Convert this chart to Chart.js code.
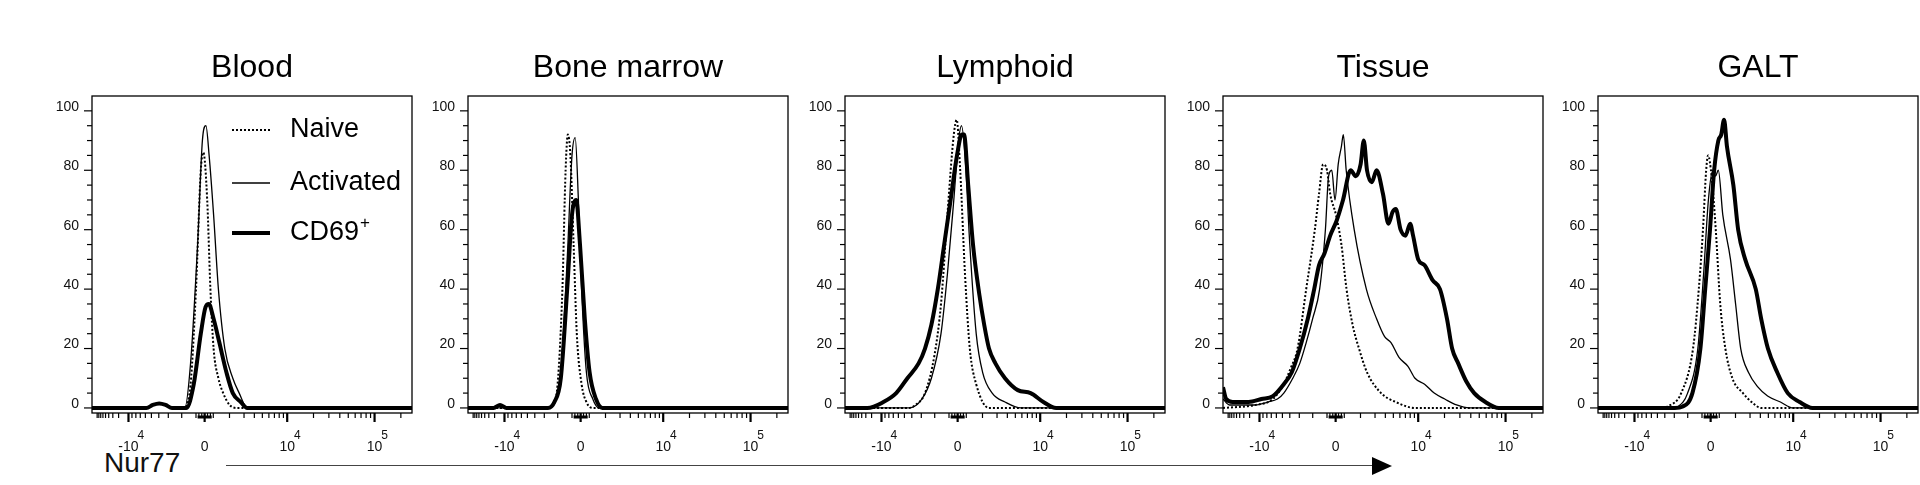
<!DOCTYPE html>
<html><head><meta charset="utf-8">
<script src="https://cdn.jsdelivr.net/npm/chart.js@4"></script>
<style>
body{margin:0;width:1920px;height:485px;background:#fff;position:relative;overflow:hidden;font-family:"Liberation Sans",Arial,sans-serif}
.pc{position:absolute;top:40px;width:370px;height:445px}
#nur{position:absolute;left:104px;top:447px;font-size:28px;color:#111}
#arr{position:absolute;left:226px;top:465px;width:1150px;height:0;border-top:1.5px solid #444}
#ah{position:absolute;left:1372px;top:457px;width:0;height:0;border-top:9px solid transparent;border-bottom:9px solid transparent;border-left:20px solid #000}
</style></head><body>
<div id="nur">Nur77</div><div id="arr"></div><div id="ah"></div>
<script>
// Panels
const panelTitles=["Blood","Bone marrow","Lymphoid","Tissue","GALT"];
const plotLefts=[92,468,845,1223,1598];
const seriesNames=["Naive","Activated","CD69⁺"];
// x axis tick positions (display units 0..100) and labels
const xTickPos=[11.4,35.2,61,88.3];
const xTickBase=["-10","0","10","10"];
const xTickSup=["4","","4","5"];
const yTicks=[0,20,40,60,80,100];

// Blood
const naiveBloodX=[0,17,19,21,23,25,28.5,30.5,32.5,34,34.8,36,37,38,39.5,41,43,45.5,100];
const naiveBloodY=[0,0,1,1.5,1,0,0,5,40,80,86,70,40,20,10,5,1,0,0];
const actBloodX=[0,17,19,21,23,25,29,30.8,33,34.5,35.6,36.6,38,39.5,41.5,44,46,48.5,100];
const actBloodY=[0,0,1,1.5,1,0,0,15,55,90,95,85,65,40,20,10,5,0,0];
const cdBloodX=[0,17,19,21,23,25,29.5,31.8,34,35.5,36.5,38,39.8,42,44,46.5,48.5,100];
const cdBloodY=[0,0,1,1.5,1,0,0,8,25,34,35,30,22,12,5,2,0,0];
// Bone marrow
const naiveBMX=[0,24,26.5,28,29.5,30.5,31.2,32,33,34,35.5,37,39,100];
const naiveBMY=[0,0,1,8,40,80,92,85,55,25,8,2,0,0];
const actBMX=[0,25,27,29,31,32.5,33.5,34.5,35.5,37,39,41,100];
const actBMY=[0,0,2,12,50,85,91,70,40,12,3,0,0];
const cdBMX=[0,8,10,12,25,27,29,31,32.5,33.8,35,36.5,38,40,42,100];
const cdBMY=[0,0,1,0,0,2,10,40,65,70,55,30,12,3,0,0];
// Lymphoid
const naiveLX=[0,20,22,25,28,30,32,34,34.9,36,37.5,39,41,45,100];
const naiveLY=[0,0,1,5,18,35,65,92,97,80,45,20,8,0,0];
const actLX=[0,20,24,27,30,32,34,35.5,36.4,37.5,39,41,43,46,50,55,100];
const actLY=[0,0,3,10,25,45,70,90,95,85,55,25,12,5,2,0,0];
const cdLX=[0,7,12,16,19.5,23,25,27,29,31,33,35,36.5,37.2,38.5,40,42,43.5,45,47,50,54,58,62,66,100];
const cdLY=[0,0,2,5,10,15,20,28,40,55,70,85,92,92,75,55,38,28,20,15,10,6,5,2,0,0];
// Tissue
const naiveTX=[0,10,15.6,19,21,23.3,26,28.7,30,31.3,32.5,33.5,35.3,37,38.6,40.5,42.5,45,49.4,54,60,100];
const naiveTY=[0,1,3,8,13,20,40,60,72,82,80,72,65,55,40,28,20,12,5,2,0,0];
const actTX=[0,2,5,10,14,17,19,21.8,24,26,28,30.2,32,33,34,35,36,37,37.6,38.5,41,44.8,48,50.5,52.5,55,57.8,60,63,66,69.3,73,77,100];
const actTY=[3,1,1,1,2,3,5,10,15,22,30,40,60,78,80,70,82,88,92,80,60,40,30,24,22,17,14,10,8,5,3,1,0,0];
const cdTX=[0,1,3,8,12,15.6,19,21.5,24,26.5,28.5,30,31.7,33.5,35.5,37.5,39.9,41.5,43,44,45,46.5,48,50,51.7,53,54,55.5,57,58.5,59.4,61,63,65.5,67.8,70,71.6,73.5,76,78.5,82,86.2,100];
const cdTY=[7,3,2,2,3,4,8,12,20,30,40,48,52,58,63,70,80,78,82,90,80,76,80,72,62,66,67,60,58,62,58,50,48,43,40,30,20,15,9,5,2,0,0];
// GALT
const naiveGX=[0,20,21.8,26,29.7,31.5,32.8,33.8,34.4,35.5,36.8,38.2,39.8,42,45.3,48,51,100];
const naiveGY=[0,0,0.5,5,20,40,60,80,85,78,60,35,20,10,5,2,0,0];
const actGX=[0,23,25,28,31.2,33,34.5,35.9,36.7,37.6,39,41.4,43,44.6,47,50,53,57,61,100];
const actGY=[0,0,0.5,5,20,45,70,80,78,80,65,50,35,20,12,7,4,2,0,0];
const cdGX=[0,24,26.5,29.5,32,33.5,35,36.3,37.6,38.5,39.4,40.3,42.3,43.8,46,49.3,51,53.1,56,59.3,63,67,100];
const cdGY=[0,0,0.5,5,20,40,60,80,90,92,97,88,75,60,50,40,30,20,12,5,2,0,0];

const panelData=[
 [[naiveBloodX,naiveBloodY],[actBloodX,actBloodY],[cdBloodX,cdBloodY]],
 [[naiveBMX,naiveBMY],[actBMX,actBMY],[cdBMX,cdBMY]],
 [[naiveLX,naiveLY],[actLX,actLY],[cdLX,cdLY]],
 [[naiveTX,naiveTY],[actTX,actTY],[cdTX,cdTY]],
 [[naiveGX,naiveGY],[actGX,actGY],[cdGX,cdGY]]
];
const styles=[{w:2,d:[2,2]},{w:1.3,d:[]},{w:4,d:[]}];

function minorX(){
  const m=[];
  for(let k=2;k<=9;k++){const l=Math.log10(k);
    m.push(35.2+25.8*l, 35.2-23.8*l, 61+27.3*l, 11.4-11.4*l*0.9, 88.3+27.3*l);}
  for(let i=-3;i<=3;i++) m.push(35.2+i*0.9);
  return m;
}
const mX=minorX();

const axesPlugin={id:'axesDraw',afterDraw(c,a,o){
  const ctx=c.ctx,ca=c.chartArea,xs=c.scales.x,ys=c.scales.y;
  ctx.save();ctx.strokeStyle='#000';ctx.fillStyle='#111';ctx.lineWidth=1.3;
  ctx.strokeRect(ca.left,ca.top,ca.right-ca.left,ca.bottom-ca.top);
  ctx.lineWidth=1.2;
  for(let v=0;v<=100;v+=5){const y=ys.getPixelForValue(v);const L=v%20===0?8:5;
    ctx.beginPath();ctx.moveTo(ca.left-L,y);ctx.lineTo(ca.left,y);ctx.stroke();}
  ctx.font='14px "Liberation Sans",Arial';ctx.textAlign='right';ctx.textBaseline='middle';
  yTicks.forEach(v=>ctx.fillText(String(v),ca.left-13,ys.getPixelForValue(v)-4));
  mX.forEach(v=>{if(v<0.5||v>99.5)return;const x=xs.getPixelForValue(v);
    ctx.beginPath();ctx.moveTo(x,ca.bottom);ctx.lineTo(x,ca.bottom+5);ctx.stroke();});
  ctx.lineWidth=2.2;
  xTickPos.forEach(v=>{const x=xs.getPixelForValue(v);
    ctx.beginPath();ctx.moveTo(x,ca.bottom);ctx.lineTo(x,ca.bottom+9);ctx.stroke();});
  ctx.lineWidth=3;const z0=xs.getPixelForValue(33),z1=xs.getPixelForValue(37.4);
  ctx.beginPath();ctx.moveTo(z0,ca.bottom+4);ctx.lineTo(z1,ca.bottom+4);ctx.stroke();
  ctx.textBaseline='alphabetic';
  xTickPos.forEach((v,i)=>{const x=xs.getPixelForValue(v);
    ctx.font='14px "Liberation Sans",Arial';ctx.textAlign='center';
    ctx.fillText(xTickBase[i],x,ca.bottom+38);
    if(xTickSup[i]){const w=ctx.measureText(xTickBase[i]).width;ctx.textAlign='left';
      ctx.font='12px "Liberation Sans",Arial';ctx.fillText(xTickSup[i],x+w/2-1,ca.bottom+26);}
  });
  ctx.font='32px "Liberation Sans",Arial';ctx.textAlign='center';ctx.fillStyle='#000';
  ctx.fillText(o.title,(ca.left+ca.right)/2,37);
  if(o.legend){
    const ly=[130,183,233].map(v=>v-40);
    styles.forEach((s,i)=>{ctx.lineWidth=s.w;ctx.setLineDash(s.d);ctx.beginPath();
      ctx.moveTo(ca.left+140,ly[i]);ctx.lineTo(ca.left+178,ly[i]);ctx.stroke();});
    ctx.setLineDash([]);ctx.font='27px "Liberation Sans",Arial';ctx.textAlign='left';ctx.textBaseline='middle';
    ctx.fillText("Naive",ca.left+198,ly[0]);ctx.fillText("Activated",ca.left+198,ly[1]);
    ctx.fillText("CD69",ca.left+198,ly[2]);const w=ctx.measureText("CD69").width;
    ctx.font='17px "Liberation Sans",Arial';ctx.fillText("+",ca.left+198+w+1,ly[2]-10);
  }
  ctx.restore();
}};

panelTitles.forEach((t,p)=>{
  const cv=document.createElement('canvas');const d=document.createElement('div');
  d.className='pc';d.style.left=(plotLefts[p]-45)+'px';d.appendChild(cv);document.body.appendChild(d);
  new Chart(cv,{type:'line',
    data:{datasets:panelData[p].map((s,i)=>({label:seriesNames[i],
      data:s[0].map((x,j)=>({x:x,y:s[1][j]})),borderColor:'#000',borderWidth:styles[i].w,
      borderDash:styles[i].d,pointRadius:0,fill:false,tension:0.35,cubicInterpolationMode:'monotone'}))},
    options:{animation:false,responsive:true,maintainAspectRatio:false,
      layout:{padding:{left:45,top:56,right:5,bottom:72}},
      scales:{x:{type:'linear',min:0,max:100,display:false},y:{min:-1.7,max:105,display:false}},
      plugins:{legend:{display:false},tooltip:{enabled:false},axesDraw:{title:t,legend:p===0}}},
    plugins:[axesPlugin]});
});
</script></body></html>
